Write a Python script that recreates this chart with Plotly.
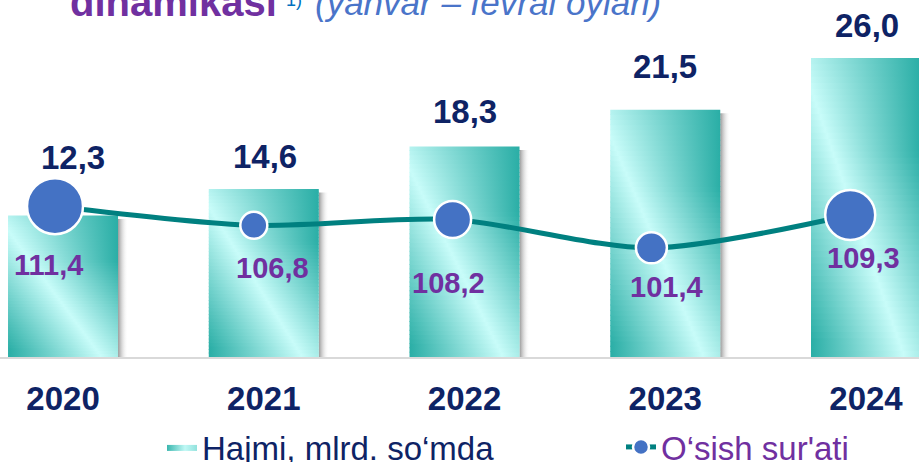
import plotly.graph_objects as go

# ---------------- data ----------------
years = [2020, 2021, 2022, 2023, 2024]
volume = [12.3, 14.6, 18.3, 21.5, 26.0]          # Hajmi, mlrd. so'mda
growth = [111.4, 106.8, 108.2, 101.4, 109.3]     # O'sish sur'ati, %
volume_name = "Hajmi, mlrd. so‘mda"
growth_name = "O‘sish sur'ati"
title_main = "dinamikasi"
title_note = "1)"
title_sub = "(yanvar – fevral oylari)"

# ---------------- style ----------------
NAVY = "#0E2365"
PURPLE = "#7030A0"
BLUE = "#4472C4"
LINE_TEAL = "#008080"
LIGHT = (200, 252, 249)
TEAL = (42, 174, 166)
BAR_W = 0.548
N_SLICES = 48
marker_sizes = [56, 27, 37, 31, 50]
bar_lbl_dx = [10, 1, 0, 0, 1]
bar_lbl_dy = [58, 33, 35, 43, 32]
gr_lbl_dx = [-7, 19, -4, 15, 13]
gr_lbl_dy = [59, 43, 63, 39, 43]


def fmt(v):
    return f"{v:.1f}".replace(".", ",")


def mix(t):
    t = max(0.0, min(1.0, t))
    r, g, b = (round(LIGHT[i] + (TEAL[i] - LIGHT[i]) * t) for i in range(3))
    return f"rgb({r},{g},{b})"


def slice_scale(p):
    def col(x):
        return mix(abs(x - p) / 0.8)
    stops = [[0.0, col(0.0)]]
    if 0.0 < p < 1.0:
        stops.append([p, col(p)])
    stops.append([1.0, col(1.0)])
    return stops


fig = go.Figure()

# bar shadows
for yr, v in zip(years, volume):
    x0 = yr + BAR_W / 2
    x1 = x0 + 0.05
    fig.add_trace(go.Scatter(
        x=[x0, x0, x1, x1, x0], y=[0, v - 0.3, v - 0.3, 0, 0],
        mode="lines", line=dict(width=0), fill="toself",
        fillgradient=dict(type="horizontal",
                          colorscale=[[0, "rgba(140,140,140,0.9)"], [1, "rgba(255,255,255,0)"]]),
        hoverinfo="skip", showlegend=False))

# gradient bars, built from horizontal slices
for yr, v in zip(years, volume):
    xl, xr = yr - BAR_W / 2, yr + BAR_W / 2
    for k in range(N_SLICES):
        y0 = v * k / N_SLICES
        y1 = min(v, v * (k + 1) / N_SLICES + 0.08)
        t = (k + 0.5) / N_SLICES
        p = 0.85 - 0.95 * t
        fig.add_trace(go.Scatter(
            x=[xl, xl, xr, xr, xl], y=[y0, y1, y1, y0, y0],
            mode="lines", line=dict(width=0), fill="toself",
            fillgradient=dict(type="horizontal", colorscale=slice_scale(p)),
            hoverinfo="skip", showlegend=False))

# legend entry for the bars
fig.add_trace(go.Scatter(
    x=[None], y=[None], mode="lines", line=dict(width=0), fill="toself",
    fillgradient=dict(type="horizontal",
                      colorscale=[[0, mix(0.9)], [0.6, mix(0.05)], [1, mix(0.35)]]),
    name=volume_name, showlegend=True, legend="legend"))

# growth line
fig.add_trace(go.Scatter(
    x=years, y=growth, xaxis="x2", yaxis="y2",
    mode="lines+markers",
    line=dict(color=LINE_TEAL, width=5, shape="spline", smoothing=0.8),
    marker=dict(size=marker_sizes, color=BLUE, opacity=1,
                line=dict(color="white", width=2.5)),
    name=growth_name, showlegend=True, legend="legend2"))

annotations = []
for i, (yr, v) in enumerate(zip(years, volume)):
    annotations.append(dict(
        x=yr, y=v, xref="x", yref="y", text=fmt(v), showarrow=False,
        xanchor="center", yanchor="middle", xshift=bar_lbl_dx[i], yshift=bar_lbl_dy[i],
        font=dict(family="Arial", size=33, color=NAVY, weight="bold")))
for i, (yr, g) in enumerate(zip(years, growth)):
    annotations.append(dict(
        x=yr, y=g, xref="x2", yref="y2", text=fmt(g), showarrow=False,
        xanchor="center", yanchor="middle", xshift=gr_lbl_dx[i], yshift=-gr_lbl_dy[i],
        font=dict(family="Arial", size=29, color=PURPLE, weight="bold")))

# cut-off title at the top
annotations.append(dict(
    x=68 / 919, y=0.927, xref="paper", yref="paper", xanchor="left", yanchor="bottom",
    showarrow=False, text=f"<b>{title_main}</b>",
    font=dict(family="Arial", size=40, color=PURPLE)))
annotations.append(dict(
    x=284 / 919, y=0.967, xref="paper", yref="paper", xanchor="left", yanchor="bottom",
    showarrow=False, text=title_note,
    font=dict(family="Arial", size=18, color="#0070C0")))
annotations.append(dict(
    x=313 / 919, y=0.932, xref="paper", yref="paper", xanchor="left", yanchor="bottom",
    showarrow=False, text=f"<i>{title_sub}</i>",
    font=dict(family="Arial", size=35, color="#4A74C9")))

fig.update_layout(
    width=919, height=462,
    margin=dict(l=0, r=0, t=0, b=105, autoexpand=False),
    paper_bgcolor="white", plot_bgcolor="white",
    xaxis=dict(range=[2019.686, 2024.264], tickvals=years, ticktext=[str(y) for y in years],
               tickfont=dict(family="Arial", size=33, color=NAVY, weight="bold"),
               showgrid=False, zeroline=False, showline=True, linecolor="#d9d9d9", linewidth=2,
               ticks="", ticklabelstandoff=11, automargin=False, fixedrange=True),
    yaxis=dict(range=[0, 31.04], visible=False, fixedrange=True, automargin=False),
    xaxis2=dict(range=[2019.7233, 2024.346], overlaying="x", visible=False, fixedrange=True),
    yaxis2=dict(range=[75.2, 160.9], overlaying="y", visible=False, fixedrange=True),
    showlegend=True,
    legend=dict(orientation="h", x=162 / 919, xanchor="left", y=-0.252, yanchor="middle",
                font=dict(family="Arial", size=33, color=NAVY), bgcolor="rgba(0,0,0,0)"),
    legend2=dict(orientation="h", x=621 / 919, xanchor="left", y=-0.252, yanchor="middle",
                 font=dict(family="Arial", size=33, color=PURPLE), bgcolor="rgba(0,0,0,0)"),
    annotations=annotations,
    hovermode=False,
)

fig.write_html("out.html", config={"displayModeBar": False, "staticPlot": True},
               post_script="document.body.style.margin='0';document.body.style.overflow='hidden';")
